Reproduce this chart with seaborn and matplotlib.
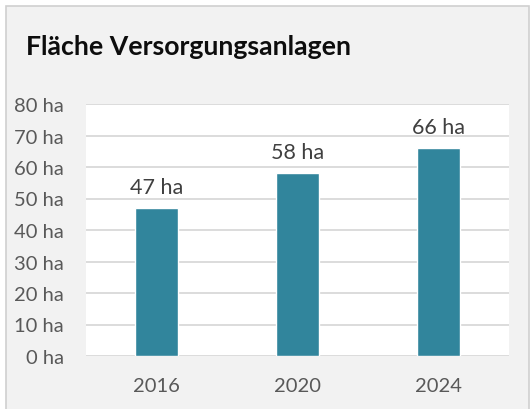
import matplotlib
matplotlib.use("Agg")
import matplotlib.pyplot as plt
import seaborn as sns
import pandas as pd
from matplotlib.patches import Rectangle

# Data
years = ["2016", "2020", "2024"]
area_ha = [47, 58, 66]
y_ticks = [0, 10, 20, 30, 40, 50, 60, 70, 80]
title = "Fläche Versorgungsanlagen"

df = pd.DataFrame({"Jahr": years, "Fläche": area_ha})

sns.set_theme(style="white")
plt.rcParams["font.family"] = ["Lato", "DejaVu Sans"]

W, H = 532, 410
fig = plt.figure(figsize=(W / 100, H / 100), dpi=100, facecolor="white")

# Chart frame: light grey panel with a thin border
fig.patches.append(Rectangle((6 / W, -0.05), (529 - 6) / W, 1.05 - 7 / H,
                             transform=fig.transFigure, facecolor="#F2F2F2",
                             edgecolor="#D0D0D0", linewidth=1.2, zorder=-5))

ax = fig.add_axes([86 / W, 1 - 357 / H, (509 - 86) / W, (357 - 105) / H])
ax.set_zorder(2)
ax.set_facecolor("white")

sns.barplot(data=df, x="Jahr", y="Fläche", color="#31859C", saturation=1,
            width=0.31, ax=ax, zorder=3)

ax.set_ylim(0, 80)
ax.set_yticks(y_ticks)
ax.set_yticklabels([f"{v} ha" for v in y_ticks])
ax.set_xlim(-0.5, 2.5)
ax.set_xlabel("")
ax.set_ylabel("")

ax.yaxis.grid(True, color="#D9D9D9", linewidth=1.3, zorder=0)
ax.set_axisbelow(True)
for s in ax.spines.values():
    s.set_visible(False)

ax.tick_params(axis="both", length=0, labelsize=14.5, colors="#595959")
ax.tick_params(axis="y", pad=16)
ax.tick_params(axis="x", pad=15)

for c in ax.containers:
    ax.bar_label(c, labels=[f"{v} ha" for v in area_ha], padding=8,
                 fontsize=15.5, color="#404040")

fig.text(26 / W, 1 - 55 / H, title, fontsize=19.2, fontweight="bold",
         color="#0D0D0D", va="baseline", ha="left", zorder=5)

fig.savefig("out.png", dpi=100, facecolor="white")
